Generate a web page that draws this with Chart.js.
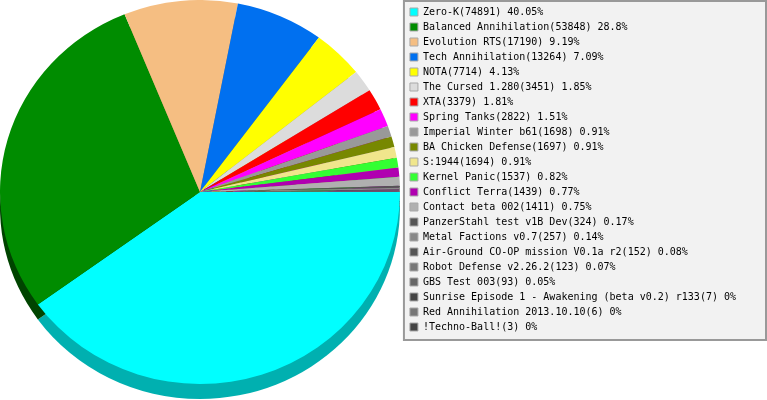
<!DOCTYPE html>
<html>
<head>
<meta charset="utf-8">
<script src="https://cdn.jsdelivr.net/npm/chart.js@4/dist/chart.umd.min.js"></script>
<style>
  body { margin: 0; background: #fff; }
  #wrap { width: 767px; height: 400px; position: relative; }
</style>
</head>
<body>
<div id="wrap"><canvas id="myChart"></canvas></div>
<script>
var games = ['Zero-K', 'Balanced Annihilation', 'Evolution RTS', 'Tech Annihilation', 'NOTA',
    'The Cursed 1.280', 'XTA', 'Spring Tanks', 'Imperial Winter b61', 'BA Chicken Defense',
    'S:1944', 'Kernel Panic', 'Conflict Terra', 'Contact beta 002', 'PanzerStahl test v1B Dev',
    'Metal Factions v0.7', 'Air-Ground CO-OP mission V0.1a r2', 'Robot Defense v2.26.2',
    'GBS Test 003', 'Sunrise Episode 1 - Awakening (beta v0.2) r133', 'Red Annihilation 2013.10.10',
    '!Techno-Ball!'];
var players = [74891, 53848, 17190, 13264, 7714, 3451, 3379, 2822, 1698, 1697, 1694, 1537,
    1439, 1411, 324, 257, 152, 123, 93, 7, 6, 3];

var colors = ['#00ffff', '#008c00', '#f5be82', '#0070f0', '#ffff00', '#dcdcdc', '#ff0000',
    '#ff00ff', '#999999', '#778800', '#f0e68c', '#33ff33', '#b000b0', '#b0b0b0', '#555555',
    '#888888', '#555555', '#777777', '#666666', '#444444', '#777777', '#444444'];
var sideColors = ['#00b0b0', '#004400', '#a8835a', '#004ea8', '#b0b000', '#989898', '#b00000',
    '#b000b0', '#6a6a6a', '#525e00', '#a69f61', '#22b022', '#7a007a', '#7a7a7a', '#3a3a3a',
    '#5e5e5e', '#3a3a3a', '#525252', '#474747', '#2f2f2f', '#525252', '#2f2f2f'];

var total = players.reduce(function (a, b) { return a + b; }, 0);

// face of the pie: slightly squashed ellipse, with a darker rim below it
var faceCx = 200, faceCy = 192, faceRx = 200, faceRy = 192, depth = 15;

function squash(ctx, arc, shift) {
    var sx = faceRx / arc.outerRadius, sy = faceRy / arc.outerRadius;
    ctx.translate(faceCx, faceCy + shift);
    ctx.scale(sx, sy);
    ctx.translate(-arc.x, -arc.y);
}

var pie3d = {
    id: 'pie3d',
    beforeDraw: function (chart) {
        var ctx = chart.ctx, lg = chart.legend;
        ctx.save();
        ctx.fillStyle = '#f2f2f2';
        ctx.strokeStyle = '#999999';
        ctx.lineWidth = 2;
        ctx.fillRect(lg.left - 1, 0, chart.width - lg.left, 340);
        ctx.strokeRect(lg.left - 1, 1, chart.width - lg.left, 339);
        ctx.restore();
    },
    beforeDatasetsDraw: function (chart) {
        var ctx = chart.ctx;
        var arcs = chart.getDatasetMeta(0).data;
        ctx.save();
        squash(ctx, arcs[0], depth);
        arcs.forEach(function (arc, i) {
            ctx.beginPath();
            ctx.moveTo(arc.x, arc.y);
            ctx.arc(arc.x, arc.y, arc.outerRadius, arc.startAngle, arc.endAngle);
            ctx.closePath();
            ctx.fillStyle = sideColors[i];
            ctx.fill();
        });
        ctx.restore();
        ctx.save();
        squash(ctx, arcs[0], 0);
    },
    afterDatasetsDraw: function (chart) {
        chart.ctx.restore();
    }
};

new Chart(document.getElementById('myChart').getContext('2d'), {
    type: 'pie',
    data: {
        labels: games,
        datasets: [{
            data: players,
            backgroundColor: colors,
            borderWidth: 0
        }]
    },
    options: {
        responsive: true,
        maintainAspectRatio: false,
        devicePixelRatio: 1,
        animation: false,
        rotation: 90,
        layout: { padding: { top: 2, right: 21 } },
        plugins: {
            tooltip: { enabled: false },
            legend: {
                position: 'right',
                align: 'start',
                labels: {
                    boxWidth: 8,
                    boxHeight: 8,
                    padding: 5,
                    color: '#000000',
                    font: { family: 'DejaVu Sans Mono', size: 10 },
                    generateLabels: function (chart) {
                        return games.map(function (name, i) {
                            var pct = Math.round(players[i] / total * 10000) / 100;
                            return {
                                text: name + '(' + players[i] + ') ' + pct + '%',
                                fillStyle: colors[i],
                                strokeStyle: '#a8a8a8',
                                lineWidth: 1,
                                fontColor: '#000000',
                                index: i
                            };
                        });
                    }
                }
            }
        }
    },
    plugins: [pie3d]
});
</script>
</body>
</html>
